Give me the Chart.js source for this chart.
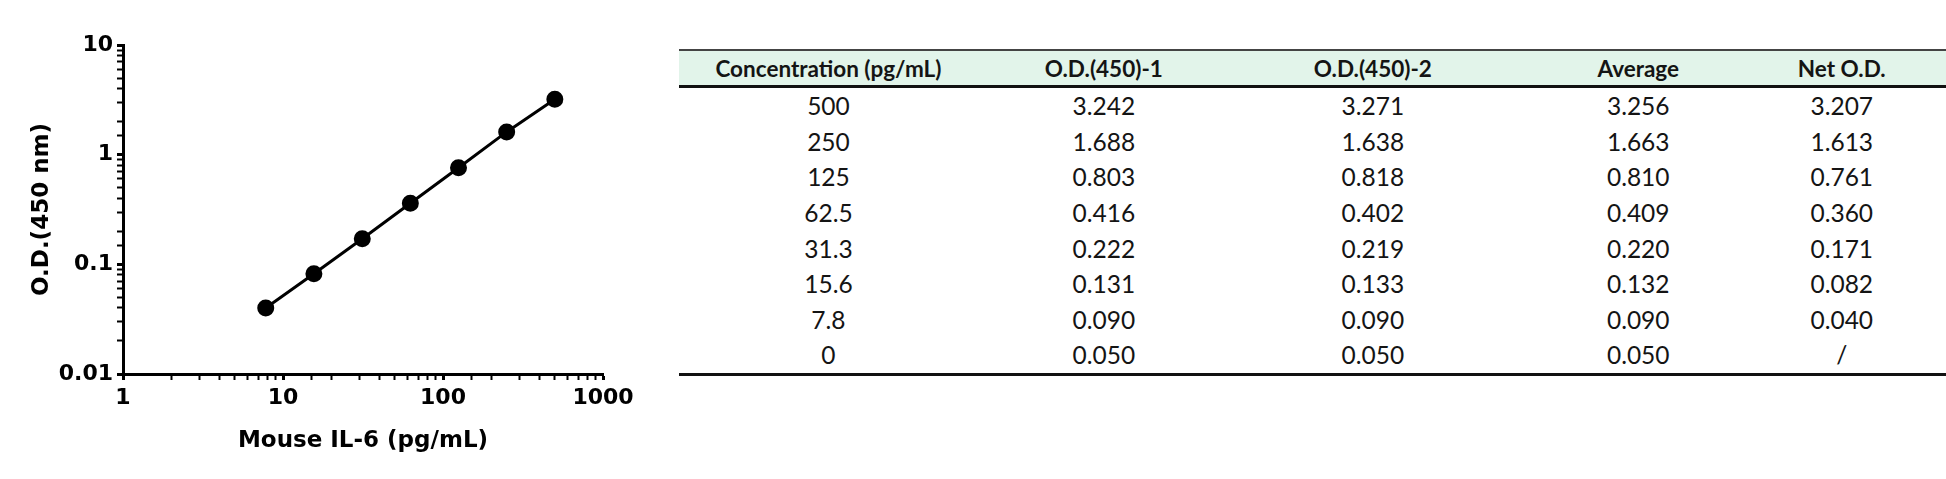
<!DOCTYPE html>
<html>
<head>
<meta charset="utf-8">
<script src="https://cdn.jsdelivr.net/npm/chart.js@4.4.1/dist/chart.umd.min.js"></script>
<style>
  html, body { margin: 0; padding: 0; background: #fff; width: 1946px; height: 479px; overflow: hidden; position: relative; }
  #curve { position: absolute; left: 0; top: 0; }
  #odTable { position: absolute; left: 679px; top: 49px; border-collapse: separate; border-spacing: 0; font-family: Lato, "Open Sans", sans-serif; color: #141414; }
  #odTable th { height: 34px; padding: 0; font-size: 22.5px; font-weight: bold; background: #e2f4ea; border-top: 2px solid #444; border-bottom: 3px solid #111; text-align: center; }
  #odTable td { height: 35.6px; padding: 0; font-size: 24.5px; text-align: center; }
  #odTable tr:last-child td { border-bottom: 3px solid #111; }
</style>
</head>
<body>
<canvas id="curve" width="650" height="479"></canvas>
<table id="odTable"><thead><tr></tr></thead><tbody></tbody></table>
<script>
// standard curve (plotted: Net O.D.)
let concX = [500, 250, 125, 62.5, 31.3, 15.6, 7.8];
let netOD = [3.207, 1.613, 0.761, 0.360, 0.171, 0.082, 0.040];

// table
let headers = ['Concentration (pg/mL)', 'O.D.(450)-1', 'O.D.(450)-2', 'Average', 'Net O.D.'];
let concLabels = ['500', '250', '125', '62.5', '31.3', '15.6', '7.8', '0'];
let od1 = ['3.242', '1.688', '0.803', '0.416', '0.222', '0.131', '0.090', '0.050'];
let od2 = ['3.271', '1.638', '0.818', '0.402', '0.219', '0.133', '0.090', '0.050'];
let avgOD = ['3.256', '1.663', '0.810', '0.409', '0.220', '0.132', '0.090', '0.050'];
let netLabels = ['3.207', '1.613', '0.761', '0.360', '0.171', '0.082', '0.040', '/'];

let colWidths = [306, 260, 296, 252, 167];

let isDecade = (v) => {
    let l = Math.log10(v);
    return Math.abs(l - Math.round(l)) < 1e-6;
};
let decadeLabel = (v) => isDecade(v) ? String(Math.pow(10, Math.round(Math.log10(v)))) : '';

let tickFont = { family: '"DejaVu Sans", sans-serif', size: 22, weight: 'bold' };
let titleFont = { family: '"DejaVu Sans", sans-serif', size: 23, weight: 'bold' };

let points = concX.map((x, i) => ({ x: x, y: netOD[i] }));

let curveChart = new Chart(document.getElementById('curve'), {
    type: 'scatter',
    data: {
        datasets: [
            {
                data: points,
                showLine: true,
                borderColor: '#000',
                borderWidth: 3,
                backgroundColor: '#000',
                pointRadius: 7,
                pointHoverRadius: 7
            }
        ]
    },
    options: {
        responsive: false,
        animation: false,
        layout: { padding: { top: 45, right: 47, left: 0, bottom: 0 } },
        plugins: { legend: { display: false }, tooltip: { enabled: false } },
        scales: {
            x: {
                type: 'logarithmic',
                min: 1,
                max: 1000,
                border: { color: '#000', width: 3 },
                grid: {
                    drawOnChartArea: false,
                    tickLength: 6,
                    tickColor: '#000',
                    tickWidth: (c) => isDecade(c.tick.value) ? 3 : 2
                },
                ticks: {
                    autoSkip: false,
                    maxRotation: 0,
                    padding: 5,
                    color: '#000',
                    font: tickFont,
                    callback: (v) => decadeLabel(v)
                },
                title: {
                    display: true,
                    text: 'Mouse IL-6 (pg/mL)',
                    color: '#000',
                    font: titleFont,
                    padding: { top: 0, bottom: 24 }
                },
                afterFit: (s) => { s.height = 105; }
            },
            y: {
                type: 'logarithmic',
                min: 0.01,
                max: 10,
                border: { color: '#000', width: 3 },
                grid: {
                    drawOnChartArea: false,
                    tickLength: 6,
                    tickColor: '#000',
                    tickWidth: (c) => isDecade(c.tick.value) ? 3 : 2
                },
                ticks: {
                    autoSkip: false,
                    padding: 4,
                    color: '#000',
                    font: tickFont,
                    callback: (v) => decadeLabel(v)
                },
                title: {
                    display: true,
                    text: 'O.D.(450 nm)',
                    color: '#000',
                    font: titleFont,
                    padding: { top: 28, bottom: 0 }
                },
                afterFit: (s) => { s.width = 123; }
            }
        }
    }
});

// build the table
let headRow = document.querySelector('#odTable thead tr');
headers.forEach((h, i) => {
    let th = document.createElement('th');
    th.textContent = h;
    th.style.width = colWidths[i] + 'px';
    if (i === headers.length - 1) th.style.paddingRight = '23px';
    headRow.appendChild(th);
});
let body = document.querySelector('#odTable tbody');
concLabels.forEach((c, r) => {
    let tr = document.createElement('tr');
    [c, od1[r], od2[r], avgOD[r], netLabels[r]].forEach((t, i) => {
        let td = document.createElement('td');
        td.textContent = t;
        if (i === 4) td.style.paddingRight = '23px';
        tr.appendChild(td);
    });
    body.appendChild(tr);
});
</script>
</body>
</html>
